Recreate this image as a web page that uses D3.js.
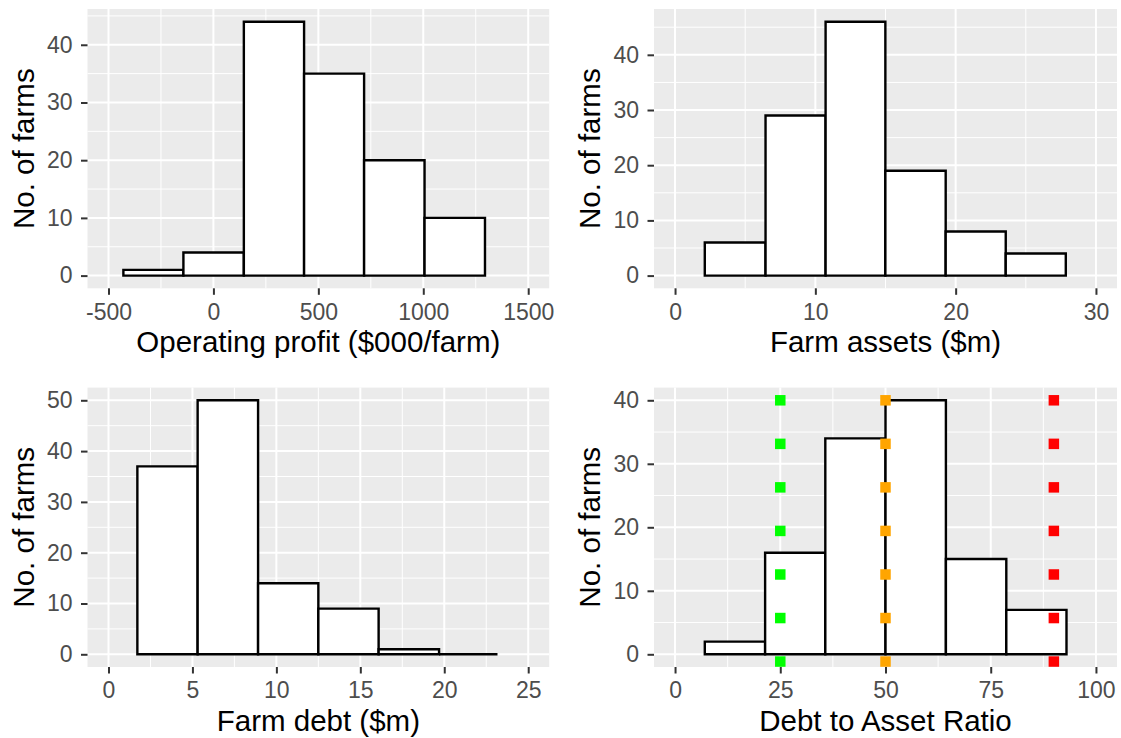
<!DOCTYPE html>
<html><head><meta charset="utf-8">
<script src="https://cdn.jsdelivr.net/npm/d3@7"></script>
<style>body{margin:0;background:#fff}svg{display:block}text{font-family:"Liberation Sans",Arial,sans-serif}</style>
</head><body><svg id="c" width="1121" height="738"></svg>
<script>
// Operating profit
const profitEdges = [-429, -143, 145, 432, 718, 1006, 1294];
const profitCounts = [1, 4, 44, 35, 20, 10];
const profitTicks = [-500, 0, 500, 1000, 1500];
// Farm assets
const assetEdges = [2.12, 6.45, 10.73, 14.99, 19.29, 23.57, 27.85];
const assetCounts = [6, 29, 46, 19, 8, 4];
const assetTicks = [0, 10, 20, 30];
// Farm debt
const debtEdges = [1.72, 5.31, 8.91, 12.5, 16.09, 19.69, 23.17];
const debtCounts = [37, 50, 14, 9, 1, 0];
const debtTicks = [0, 5, 10, 15, 20, 25];
// Debt to asset ratio
const ratioEdges = [7.07, 21.4, 35.7, 50.0, 64.35, 78.7, 93.0];
const ratioCounts = [2, 16, 34, 40, 15, 7];
const ratioTicks = [0, 25, 50, 75, 100];
// Threshold markers
const markerX = [25, 50, 90];
const markerColors = ["#00FF00", "#FFA500", "#FF0000"];
const markerY = [40, 33.14, 26.29, 19.43, 12.57, 5.71, -1.14];

const svg = d3.select("#c");
const FONT = '"Liberation Sans", Arial, sans-serif';

function panel(o) {
  const g = svg.append("g");
  const x = d3.scaleLinear().domain(o.xd).range([o.x0, o.x1]);
  const y = d3.scaleLinear().domain(o.yd).range([o.y1, o.y0]);
  g.append("rect").attr("x", o.x0).attr("y", o.y0).attr("width", o.x1 - o.x0).attr("height", o.y1 - o.y0).attr("fill", "#EBEBEB");
  const xMinor = o.xt.slice(0, -1).map((t, i) => (t + o.xt[i + 1]) / 2);
  const ystep = o.yt[1] - o.yt[0];
  const yMinor = o.yt.map(t => t + ystep / 2).filter(v => v <= o.yd[1]);
  g.selectAll(".xm").data(xMinor).join("line").attr("x1", d => x(d)).attr("x2", d => x(d)).attr("y1", o.y0).attr("y2", o.y1).attr("stroke", "#fff").attr("stroke-width", 1);
  g.selectAll(".ym").data(yMinor).join("line").attr("y1", d => y(d)).attr("y2", d => y(d)).attr("x1", o.x0).attr("x2", o.x1).attr("stroke", "#fff").attr("stroke-width", 1);
  g.selectAll(".xM").data(o.xt).join("line").attr("x1", d => x(d)).attr("x2", d => x(d)).attr("y1", o.y0).attr("y2", o.y1).attr("stroke", "#fff").attr("stroke-width", 2);
  g.selectAll(".yM").data(o.yt).join("line").attr("y1", d => y(d)).attr("y2", d => y(d)).attr("x1", o.x0).attr("x2", o.x1).attr("stroke", "#fff").attr("stroke-width", 2);
  const bins = o.counts.map((c, i) => ({a: o.edges[i], b: o.edges[i + 1], c}));
  g.selectAll(".bar").data(bins).join("path")
    .attr("d", d => `M${x(d.a)},${y(0)}V${y(d.c)}H${x(d.b)}V${y(0)}Z`)
    .attr("fill", "#fff").attr("stroke", "#000").attr("stroke-width", 2.4).attr("stroke-linejoin", "miter");
  if (o.markers) {
    const pts = [];
    markerX.forEach((mx, i) => markerY.forEach(my => pts.push({mx, my, col: markerColors[i]})));
    g.selectAll(".pt").data(pts).join("rect")
      .attr("x", d => x(d.mx) - 5.25).attr("y", d => y(d.my) - 5.25).attr("width", 10.5).attr("height", 10.5)
      .attr("fill", d => d.col);
  }
  const xa = g.append("g").attr("transform", `translate(0,${o.y1})`)
    .call(d3.axisBottom(x).tickValues(o.xt).tickSize(6.5).tickPadding(8.5).tickFormat(d => d));
  const ya = g.append("g").attr("transform", `translate(${o.x0},0)`)
    .call(d3.axisLeft(y).tickValues(o.yt).tickSize(6.5).tickPadding(8.5).tickFormat(d => d));
  [xa, ya].forEach(a => {
    a.attr("font-size", null).attr("font-family", null);
    a.select(".domain").remove();
    a.selectAll(".tick line").attr("stroke", "#333333").attr("stroke-width", 2);
    a.selectAll(".tick text").attr("fill", "#4D4D4D").style("font-size", "23px").style("font-family", FONT);
  });
  g.append("text").attr("x", (o.x0 + o.x1) / 2).attr("y", o.y1 + 64).attr("text-anchor", "middle")
    .style("font-size", "29.5px").style("font-family", FONT).attr("fill", "#000").text(o.xlab);
  g.append("text").attr("transform", `translate(${o.x0 - 54},${(o.y0 + o.y1) / 2}) rotate(-90)`).attr("text-anchor", "middle")
    .style("font-size", "29.5px").style("font-family", FONT).attr("fill", "#000").text("No. of farms");
}

panel({x0: 87.5, x1: 549.2, y0: 9, y1: 288.3, xd: [-600, 1600], yd: [-2.2, 46.2], xt: profitTicks, yt: [0, 10, 20, 30, 40],
  edges: profitEdges, counts: profitCounts, xlab: "Operating profit ($000/farm)"});
panel({x0: 654, x1: 1117, y0: 9, y1: 288.3, xd: [-1.5, 31.5], yd: [-2.3, 48.3], xt: assetTicks, yt: [0, 10, 20, 30, 40],
  edges: assetEdges, counts: assetCounts, xlab: "Farm assets ($m)"});
panel({x0: 87.5, x1: 549.2, y0: 387.6, y1: 667, xd: [-1.25, 26.25], yd: [-2.5, 52.5], xt: debtTicks, yt: [0, 10, 20, 30, 40, 50],
  edges: debtEdges, counts: debtCounts, xlab: "Farm debt ($m)"});
panel({x0: 654, x1: 1117, y0: 387.6, y1: 667, xd: [-5, 105], yd: [-2, 42], xt: ratioTicks, yt: [0, 10, 20, 30, 40],
  edges: ratioEdges, counts: ratioCounts, xlab: "Debt to Asset Ratio", markers: true});
</script></body></html>
